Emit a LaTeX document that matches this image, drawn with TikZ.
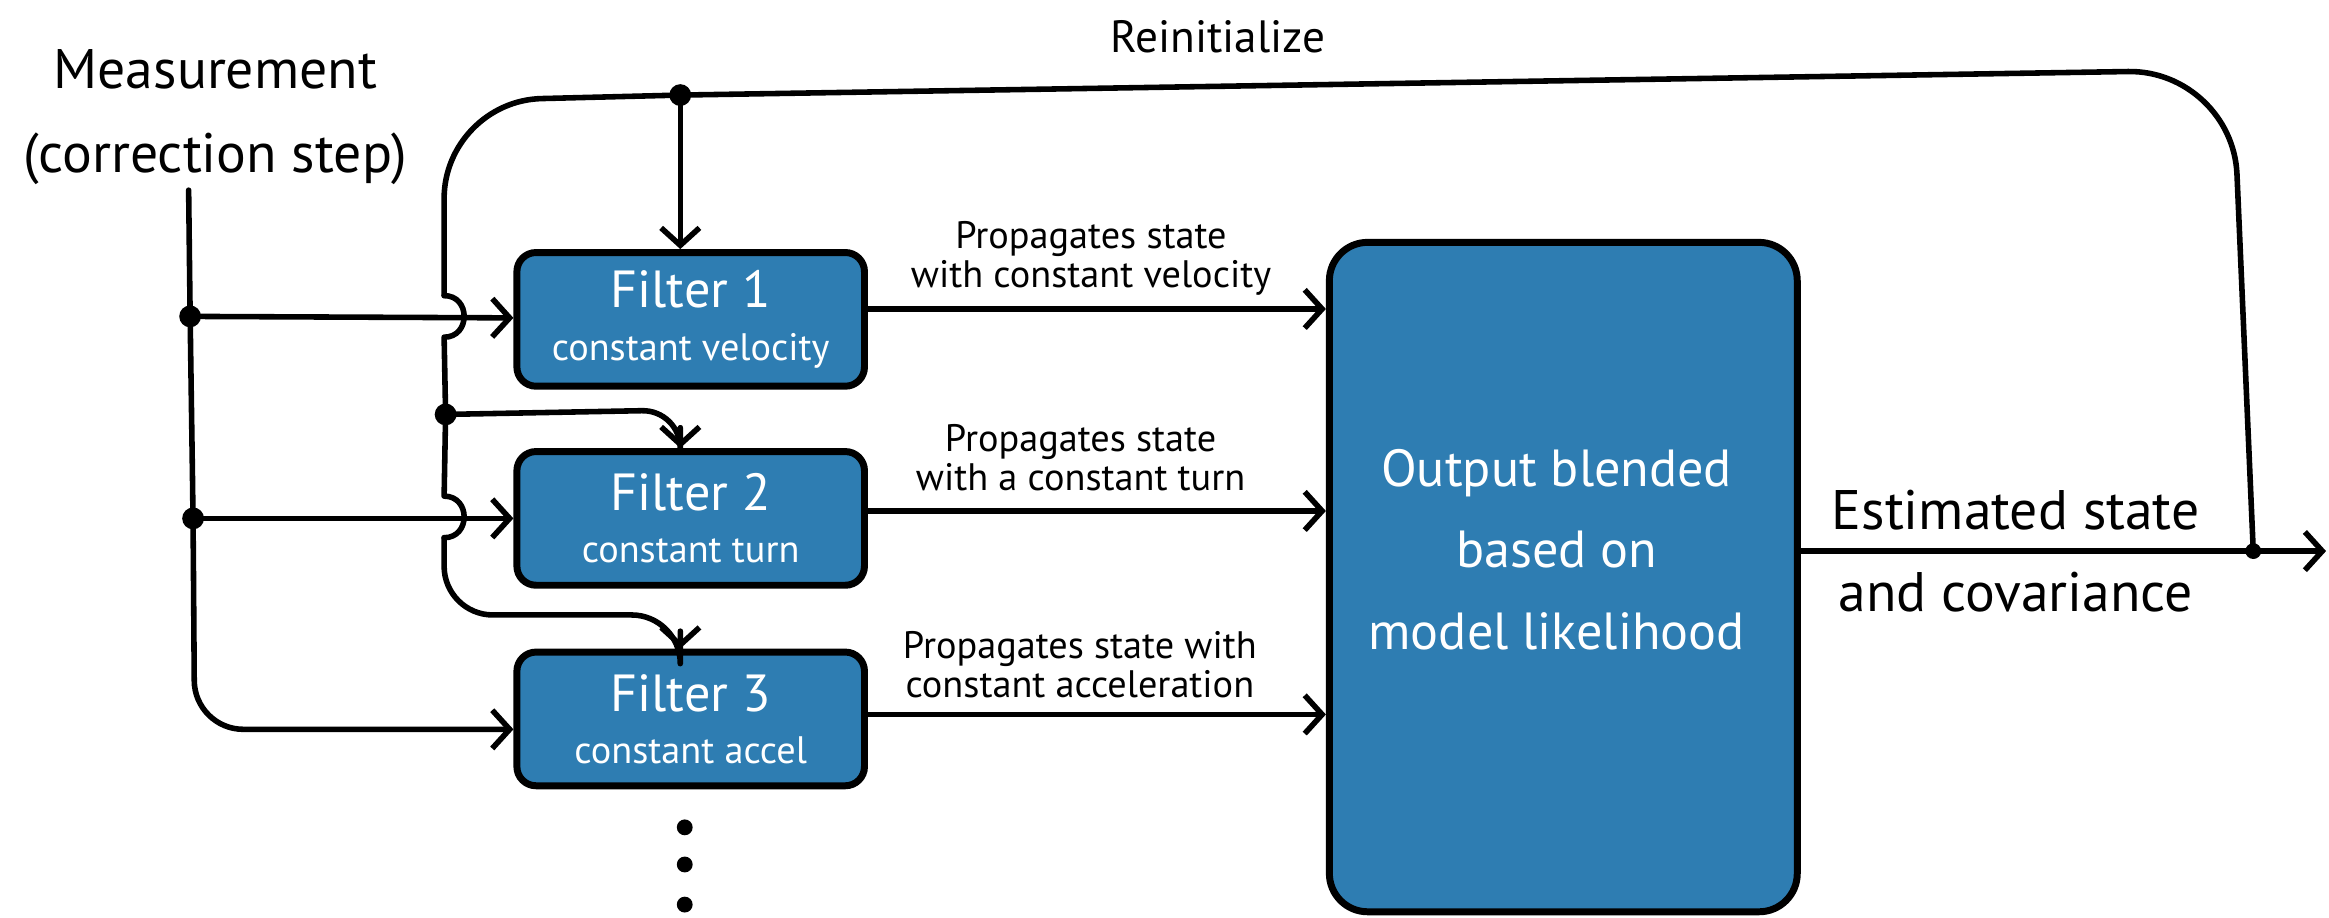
\documentclass[tikz,border=0pt]{standalone}
\usepackage{fontspec}
\setmainfont{PT Sans}
\usetikzlibrary{arrows.meta,calc}
\definecolor{boxblue}{RGB}{46,125,178}
\begin{document}
\begin{tikzpicture}[x=0.015cm,y=-0.015cm,
  conn/.style={line width=1.6pt, line cap=round, line join=round},
  arr/.style={conn, -{Straight Barb[length=5pt,width=11pt]}},
  filt/.style={draw, line width=2pt, fill=boxblue, rounded corners=5.5pt,
    minimum width=35.1mm, minimum height=13.5mm, inner sep=0pt,
    text=white, align=center, font=\fontsize{11}{15}\selectfont},
  outbox/.style={draw, line width=2pt, fill=boxblue, rounded corners=11pt,
    minimum width=47.25mm, minimum height=67.6mm, inner sep=0pt},
  lab/.style={align=center, font=\fontsize{11}{11.2}\selectfont},
  dot/.style={circle, fill=black, inner sep=0pt, minimum size=2.2mm},
  vdot/.style={circle, fill=black, inner sep=0pt, minimum size=1.6mm}
]
\useasboundingbox (0,0) rectangle (1568,617.4);

% text
\node[align=center, font=\fontsize{16}{24}\selectfont] (meas) at (145,79) {Measurement\\(correction step)};
\node[anchor=base, font=\fontsize{13}{13}\selectfont] (reinit) at (820,35) {Reinitialize};

% boxes
\node[filt] (f1) at (465,215) {{\fontsize{15}{15}\selectfont Filter 1}\\constant velocity};
\node[filt] (f2) at (465,349) {{\fontsize{15}{15}\selectfont Filter 2}\\constant turn};
\node[filt] (f3) at (465,484) {{\fontsize{15}{15}\selectfont Filter 3}\\constant accel};
\node[outbox] (out) at (1052.5,388.5) {};
\node[align=center, text=white, font=\fontsize{15}{23.5}\selectfont] (outtxt) at (1048,370) {Output blended\\based on\\model likelihood};

% labels
\node[lab] (l1) at (734.5,174) {Propagates state\\with constant velocity};
\node[lab] (l2) at (727.5,308) {Propagates state\\with a constant turn};
\node[lab] (l3) at (727,447.5) {Propagates state with\\constant acceleration};
\node[align=center, font=\fontsize{16}{23.5}\selectfont] (est) at (1357,371) {Estimated state\\and covariance};

% junctions
\coordinate (m0) at (127,128);
\node[dot] (d1) at (128,213) {};
\node[dot] (d2) at (130,349) {};
\node[dot] (dT) at (458,64) {};
\node[dot] (dL) at (300,279) {};
\node[dot, minimum size=1.6mm] (dR) at (1517,371) {};
\coordinate (oS) at ($(out.east)+(0,-17.5)$);
\coordinate (oE) at (1566,371);
\coordinate (b2) at (458,288);
\coordinate (b3) at (458,425);

% measurement feed
\draw[arr, rounded corners=14] (m0) -- (d1.center) -- (d2.center) -- (131,491) -- ($(f3.west)+(0,7)$);
\draw[arr] (d1.center) -- ($(f1.west)+(0,-1)$);
\draw[arr] (d2.center) -- (f2.west);

% filters to output
\draw[arr] ($(f1.east)+(0,-7)$) coordinate (a1) -- (a1 -| out.west);
\draw[arr] ($(f2.east)+(0,-5)$) coordinate (a2) -- (a2 -| out.west);
\draw[arr] ($(f3.east)+(0,-3)$) coordinate (a3) -- (a3 -| out.west);

% output
\draw[arr] (oS) -- (oE);

% reinitialize loop
\draw[conn, rounded corners=30] (dR.center) -- (1503,47) -- (dT.center);
\draw[arr] (dT.center) -- (dT |- f1.north);
\draw[conn, rounded corners=28] (dT.center) -- (299,68) -- (299,199);
\draw[conn] (299,199) .. controls (317,199) and (317,227) .. (299,227) -- (dL.center) -- (299,334)
  .. controls (317,334) and (317,362) .. (299,362);
\draw[conn, rounded corners=11] (dL.center) -- (458,276) -- (b2);
\draw[arr] (b2) -- (dT |- f2.north);
\draw[conn, rounded corners=14] (299,362) -- (299,414) -- (458,414) -- (b3);
\draw[arr] (b3) -- (dT |- f3.north);

% continuation dots
\node[vdot] (v1) at (461,557) {};
\node[vdot] (v2) at (461,582) {};
\node[vdot] (v3) at (461,609) {};
\end{tikzpicture}
\end{document}
